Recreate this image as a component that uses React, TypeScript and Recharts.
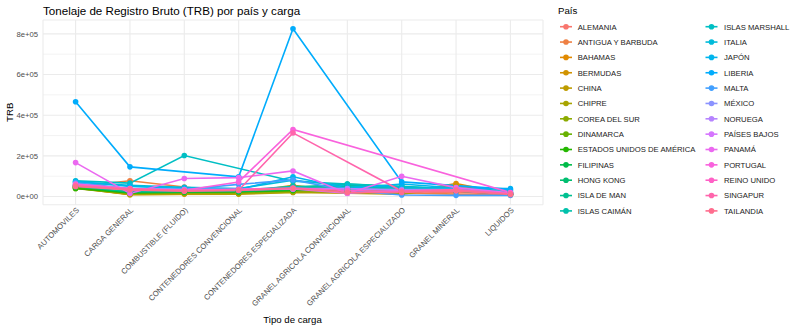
import { LineChart, Line, XAxis, YAxis, CartesianGrid, ReferenceLine } from "recharts";

const categories = [
  "AUTOMOVILES",
  "CARGA GENERAL",
  "COMBUSTIBLE (FLUIDO)",
  "CONTENEDORES CONVENCIONAL",
  "CONTENEDORES ESPECIALIZADA",
  "GRANEL AGRICOLA CONVENCIONAL",
  "GRANEL AGRICOLA ESPECIALIZADO",
  "GRANEL MINERAL",
  "LIQUIDOS",
];

const countries = [
  "ALEMANIA", "ANTIGUA Y BARBUDA", "BAHAMAS", "BERMUDAS", "CHINA", "CHIPRE",
  "COREA DEL SUR", "DINAMARCA", "ESTADOS UNIDOS DE AMÉRICA", "FILIPINAS",
  "HONG KONG", "ISLA DE MAN", "ISLAS CAIMÁN", "ISLAS MARSHALL", "ITALIA",
  "JAPÓN", "LIBERIA", "MALTA", "MÉXICO", "NORUEGA", "PAÍSES BAJOS", "PANAMÁ",
  "PORTUGAL", "REINO UNIDO", "SINGAPUR", "TAILANDIA",
];

// TRB per category, same order as `categories` (null = no row for that cargo)
const alemania = [52000, 14000, 22000, 18000, 24000, 20000, 14000, 22000, 9000];
const antigua = [48000, 78000, 47000, 20000, 30000, 22000, 18000, 12000, 8000];
const bahamas = [45000, 12000, 14000, 16000, 55000, 24000, 20000, 64000, 11000];
const bermudas = [42000, 9000, 12000, 14000, 48000, 22000, 18000, 56000, 10000];
const china = [44000, 10000, null, 12000, 20000, 16000, 12000, 48000, 8000];
const chipre = [40000, 12000, 15000, 15000, 22000, 26000, 30000, 44000, 12000];
const corea = [50000, 15000, 18000, 18000, 26000, 22000, 16000, 40000, 10000];
const dinamarca = [46000, 20000, 20000, 22000, 30000, 36000, 30000, 38000, 14000];
const eeuu = [40000, 18000, 22000, 24000, 30000, 42000, 34000, 30000, 15000];
const filipinas = [50000, 20000, 24000, 25000, 35000, 50000, 40000, 27000, 12000];
const hongKong = [54000, 24000, 25000, 27000, 40000, 56000, 45000, 30000, 15000];
const islaDeMan = [50000, 25000, 28000, 30000, 45000, 62000, 50000, 34000, 16000];
const islasCaiman = [56000, 30000, 30000, 30000, 50000, 46000, 40000, 36000, 20000];
const islasMarshall = [77000, 66000, 202000, null, 75000, 62000, 48000, 40000, 22000];
const italia = [70000, 55000, 45000, 40000, 80000, 52000, 45000, 40000, 30000];
const japon = [75000, 50000, 40000, 35000, 97000, 40000, 62000, 42000, 39000];
const liberia = [466000, 146000, null, 97000, 825000, null, 72000, null, 35000];
const malta = [68000, 40000, 35000, 60000, 82000, 30000, 8000, 6000, 6000];
const mexico = [60000, 40000, 35000, 35000, 36000, 38000, 35000, 35000, 15000];
const noruega = [58000, 35000, 34000, 34000, 40000, 40000, 30000, 30000, 15000];
const paisesBajos = [55000, 32000, 30000, 34000, 38000, 16000, 30000, 30000, 14000];
const panama = [167000, 15000, 89000, 93000, 126000, 15000, 100000, 44000, 18000];
const portugal = [62000, 40000, 31000, 72000, 330000, null, null, null, 20000];
const reinoUnido = [56000, 34000, 30000, 36000, 42000, 30000, 25000, 30000, 15000];
const singapur = [52000, 38000, 30000, 31000, 313000, null, 27000, 35000, 14000];
const tailandia = [50000, 33000, 26000, 30000, 40000, 20000, 20000, 28000, 10000];

const seriesValues = [
  alemania, antigua, bahamas, bermudas, china, chipre, corea, dinamarca, eeuu,
  filipinas, hongKong, islaDeMan, islasCaiman, islasMarshall, italia, japon,
  liberia, malta, mexico, noruega, paisesBajos, panama, portugal, reinoUnido,
  singapur, tailandia,
];

const yTicks = [0, 200000, 400000, 600000, 800000];
const yMinor = [100000, 300000, 500000, 700000];

const FONT = '"Liberation Sans", Arial, Helvetica, sans-serif';

// ggplot2 default hue palette: hcl(h, c = 100, l = 65)
function hcl(h: number, c = 100, l = 65): string {
  const hr = (h * Math.PI) / 180;
  const U = c * Math.cos(hr);
  const V = c * Math.sin(hr);
  const Xn = 95.047, Yn = 100, Zn = 108.883;
  const den = Xn + 15 * Yn + 3 * Zn;
  const un = (4 * Xn) / den;
  const vn = (9 * Yn) / den;
  const Y = Yn * (l > 7.999592 ? Math.pow((l + 16) / 116, 3) : l / 903.3);
  const u = U / (13 * l) + un;
  const v = V / (13 * l) + vn;
  const X = (9 * Y * u) / (4 * v);
  const Z = -X / 3 - 5 * Y + (3 * Y) / v;
  const lin = [
    3.240479 * X - 1.53715 * Y - 0.498535 * Z,
    -0.969256 * X + 1.875992 * Y + 0.041556 * Z,
    0.055648 * X - 0.204043 * Y + 1.057311 * Z,
  ].map((x) => x / 100);
  return (
    "#" +
    lin
      .map((x) => {
        const g = x <= 0.0031308 ? 12.92 * x : 1.055 * Math.pow(x, 1 / 2.4) - 0.055;
        const n = Math.round(Math.min(1, Math.max(0, g)) * 255);
        return n.toString(16).padStart(2, "0");
      })
      .join("")
  );
}

const colors = countries.map((_, i) => hcl(15 + (i * 360) / countries.length));

function sci(v: number): string {
  const [m, e] = v.toExponential(0).split("e");
  return `${m}e${e[0]}${e.slice(1).padStart(2, "0")}`;
}

function XTick({ x, y, payload }: any) {
  return (
    <g transform={`translate(${x},${y})`}>
      <text
        transform="rotate(-45)"
        textAnchor="end"
        dy="0.72em"
        fontSize={7.7}
        fontFamily={FONT}
        fill="#4d4d4d"
      >
        {payload.value}
      </text>
    </g>
  );
}

export default function App() {
  const data = categories.map((cat, ci) => {
    const row: Record<string, string | number | null> = { cat };
    seriesValues.forEach((vals, si) => {
      row[`s${si}`] = vals[ci];
    });
    return row;
  });

  const rowY = (i: number) => 26.7 + i * 15.35;

  return (
    <div
      style={{
        position: "absolute",
        left: 0,
        top: 0,
        width: 800,
        height: 328,
        background: "#fff",
        fontFamily: FONT,
      }}
    >
      <LineChart
        width={800}
        height={328}
        data={data}
        margin={{ top: 20, right: 257, bottom: 0, left: 0 }}
      >
        <CartesianGrid stroke="#ebebeb" strokeWidth={1.1} />
        {yMinor.map((v) => (
          <ReferenceLine key={v} y={v} stroke="#ebebeb" strokeWidth={0.6} />
        ))}
        <XAxis
          dataKey="cat"
          type="category"
          interval={0}
          axisLine={false}
          tickLine={false}
          tickSize={2}
          tickMargin={0}
          height={123.3}
          padding={{ left: 32.6, right: 32.6 }}
          tick={<XTick />}
        />
        <YAxis
          type="number"
          domain={[-40000, 868000]}
          ticks={yTicks}
          tickFormatter={sci}
          axisLine={false}
          tickLine={false}
          tickSize={3}
          tickMargin={2}
          width={43}
          tick={{ fontSize: 7.7, fill: "#4d4d4d", fontFamily: FONT }}
        />
        {countries.map((c, i) => (
          <Line
            key={`l${i}`}
            dataKey={`s${i}`}
            name={c}
            type="linear"
            stroke={colors[i]}
            strokeWidth={1.6}
            dot={false}
            activeDot={false}
            connectNulls
            isAnimationActive={false}
          />
        ))}
        {countries.map((c, i) => (
          <Line
            key={`p${i}`}
            dataKey={`s${i}`}
            name={c}
            type="linear"
            stroke="none"
            dot={{ r: 2.8, fill: colors[i], stroke: "none" }}
            activeDot={false}
            isAnimationActive={false}
          />
        ))}
      </LineChart>

      <svg
        width={800}
        height={328}
        style={{ position: "absolute", left: 0, top: 0, pointerEvents: "none" }}
        fontFamily={FONT}
      >
        <text x={43} y={14.5} fontSize={11.6} fill="#000">
          Tonelaje de Registro Bruto (TRB) por país y carga
        </text>
        <text
          transform="translate(12.8,112.3) rotate(-90)"
          textAnchor="middle"
          fontSize={9.65}
          fill="#000"
        >
          TRB
        </text>
        <text x={292.5} y={322.5} textAnchor="middle" fontSize={9.65} fill="#000">
          Tipo de carga
        </text>

        <text x={558} y={14.2} fontSize={9.65} fill="#000">
          País
        </text>
        {countries.map((c, i) => {
          const col = i < 13 ? 0 : 1;
          const r = i % 13;
          const kx = col === 0 ? 566 : 711.5;
          const lx = col === 0 ? 577.7 : 724;
          const cy = rowY(r);
          return (
            <g key={c}>
              <line x1={kx - 6} x2={kx + 6} y1={cy} y2={cy} stroke={colors[i]} strokeWidth={1.6} />
              <circle cx={kx} cy={cy} r={2.8} fill={colors[i]} />
              <text x={lx} y={cy + 2.8} fontSize={7.7} fill="#1a1a1a">
                {c}
              </text>
            </g>
          );
        })}
      </svg>
    </div>
  );
}
